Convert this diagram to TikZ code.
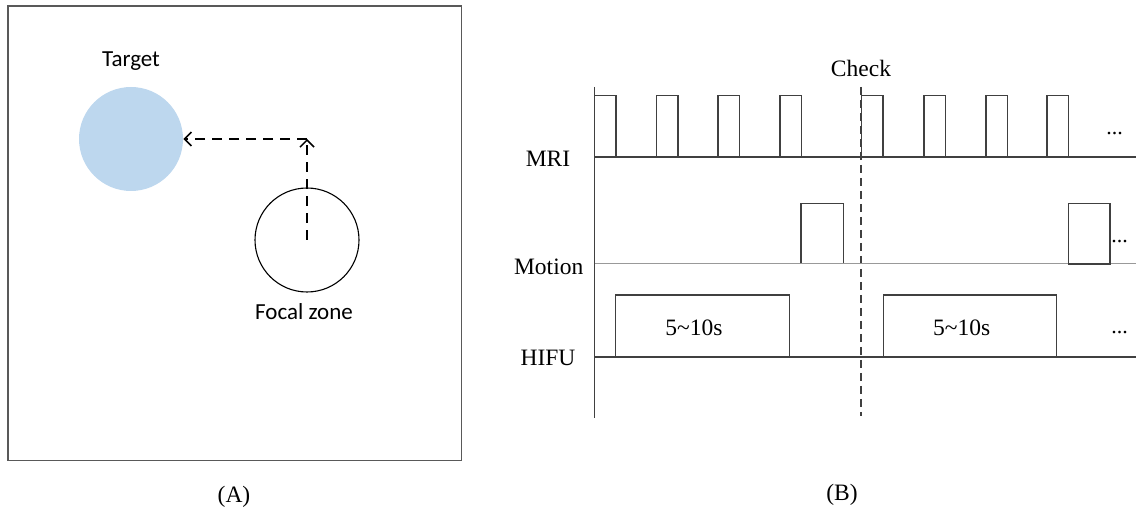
\documentclass[tikz,border=0pt]{standalone}
\usepackage{fontspec}
\setmainfont{Liberation Serif}
\newfontfamily\calibri{Carlito}
\usetikzlibrary{arrows.meta}
\definecolor{tgtblue}{HTML}{BDD7EE}
\definecolor{linegray}{HTML}{404040}
\begin{document}
\begin{tikzpicture}[x=0.5pt,y=-0.5pt,
  serlab/.style={font=\fontsize{11.75pt}{14pt}\selectfont, inner sep=0pt},
  sanlab/.style={font=\calibri\fontsize{11.5pt}{14pt}\selectfont, inner sep=0pt},
  dotlab/.style={font=\fontsize{11pt}{13pt}\selectfont, inner sep=0pt, anchor=base},
  dasharrow/.style={draw=black, line width=0.75pt, dash pattern=on 5pt off 3.5pt, -{Straight Barb[length=3.5pt,width=7pt]}},
  trace/.style={draw=linegray, line width=0.8pt},
  thintrace/.style={draw=black!40, line width=0.5pt},
  checkline/.style={draw=linegray, line width=0.6pt, dash pattern=on 4pt off 2.5pt}]
\useasboundingbox (0,0) rectangle (1136,513);
% ---------- Panel A ----------
\draw[draw=black!65, line width=0.7pt] (8,6) rectangle (461.5,460.5);
\node[circle, fill=tgtblue, minimum size=52pt, inner sep=0pt] (target) at (131,139) {};
\node[circle, draw=black, line width=0.55pt, minimum size=52pt, inner sep=0pt] (fz) at (307,240) {};
\coordinate (corner) at (307,139);
\draw[dasharrow] (fz.center) -- (corner);
\draw[dasharrow] (corner) -- (target.east);
\node[sanlab] (tlab) at (131,61.5) {Target};
\node[sanlab] (flab) at (304,311.5) {Focal zone};
\node[serlab] (alab) at (234,497) {(A)};
% ---------- Panel B ----------
\draw[trace] (594.5,87) -- (594.5,418);
\draw[checkline] (861,87) -- (861,416);
\node[serlab] (check) at (861,68) {Check};
% MRI
\draw[trace] (594.5,157) -- (1136,157);
\foreach \px in {594.5,656.5,718,780,861.5,924,986,1047}{
  \draw[trace] (\px,157) -- (\px,95.7) -- (\px+21.5,95.7) -- (\px+21.5,157);
}
\node[serlab] (mri) at (548,159) {MRI};
\node[dotlab] (mdots) at (1114.6,134.5) {...};
% Motion
\draw[thintrace] (594.5,263.5) -- (1136,263.5);
\draw[trace] (801,263.5) -- (801,203.5) -- (843.5,203.5) -- (843.5,263.5);
\draw[trace] (1068.5,264) -- (1068.5,203.5) -- (1110,203.5) -- (1110,264) -- cycle;
\node[serlab] (motion) at (548.7,266.7) {Motion};
\node[dotlab] (modots) at (1119.5,242.5) {...};
% HIFU
\draw[trace] (594.5,357) -- (1136,357);
\draw[trace] (615.5,357) -- (615.5,295) -- (789.5,295) -- (789.5,357);
\draw[trace] (883.5,357) -- (883.5,295) -- (1056.5,295) -- (1056.5,357);
\node[serlab] (h1) at (694,327.7) {5\textasciitilde 10s};
\node[serlab] (h2) at (961.7,327.7) {5\textasciitilde 10s};
\node[serlab] (hifu) at (548,357.7) {HIFU};
\node[dotlab] (hdots) at (1119.5,334) {...};
\node[serlab] (blab) at (842,495) {(B)};
\end{tikzpicture}
\end{document}
